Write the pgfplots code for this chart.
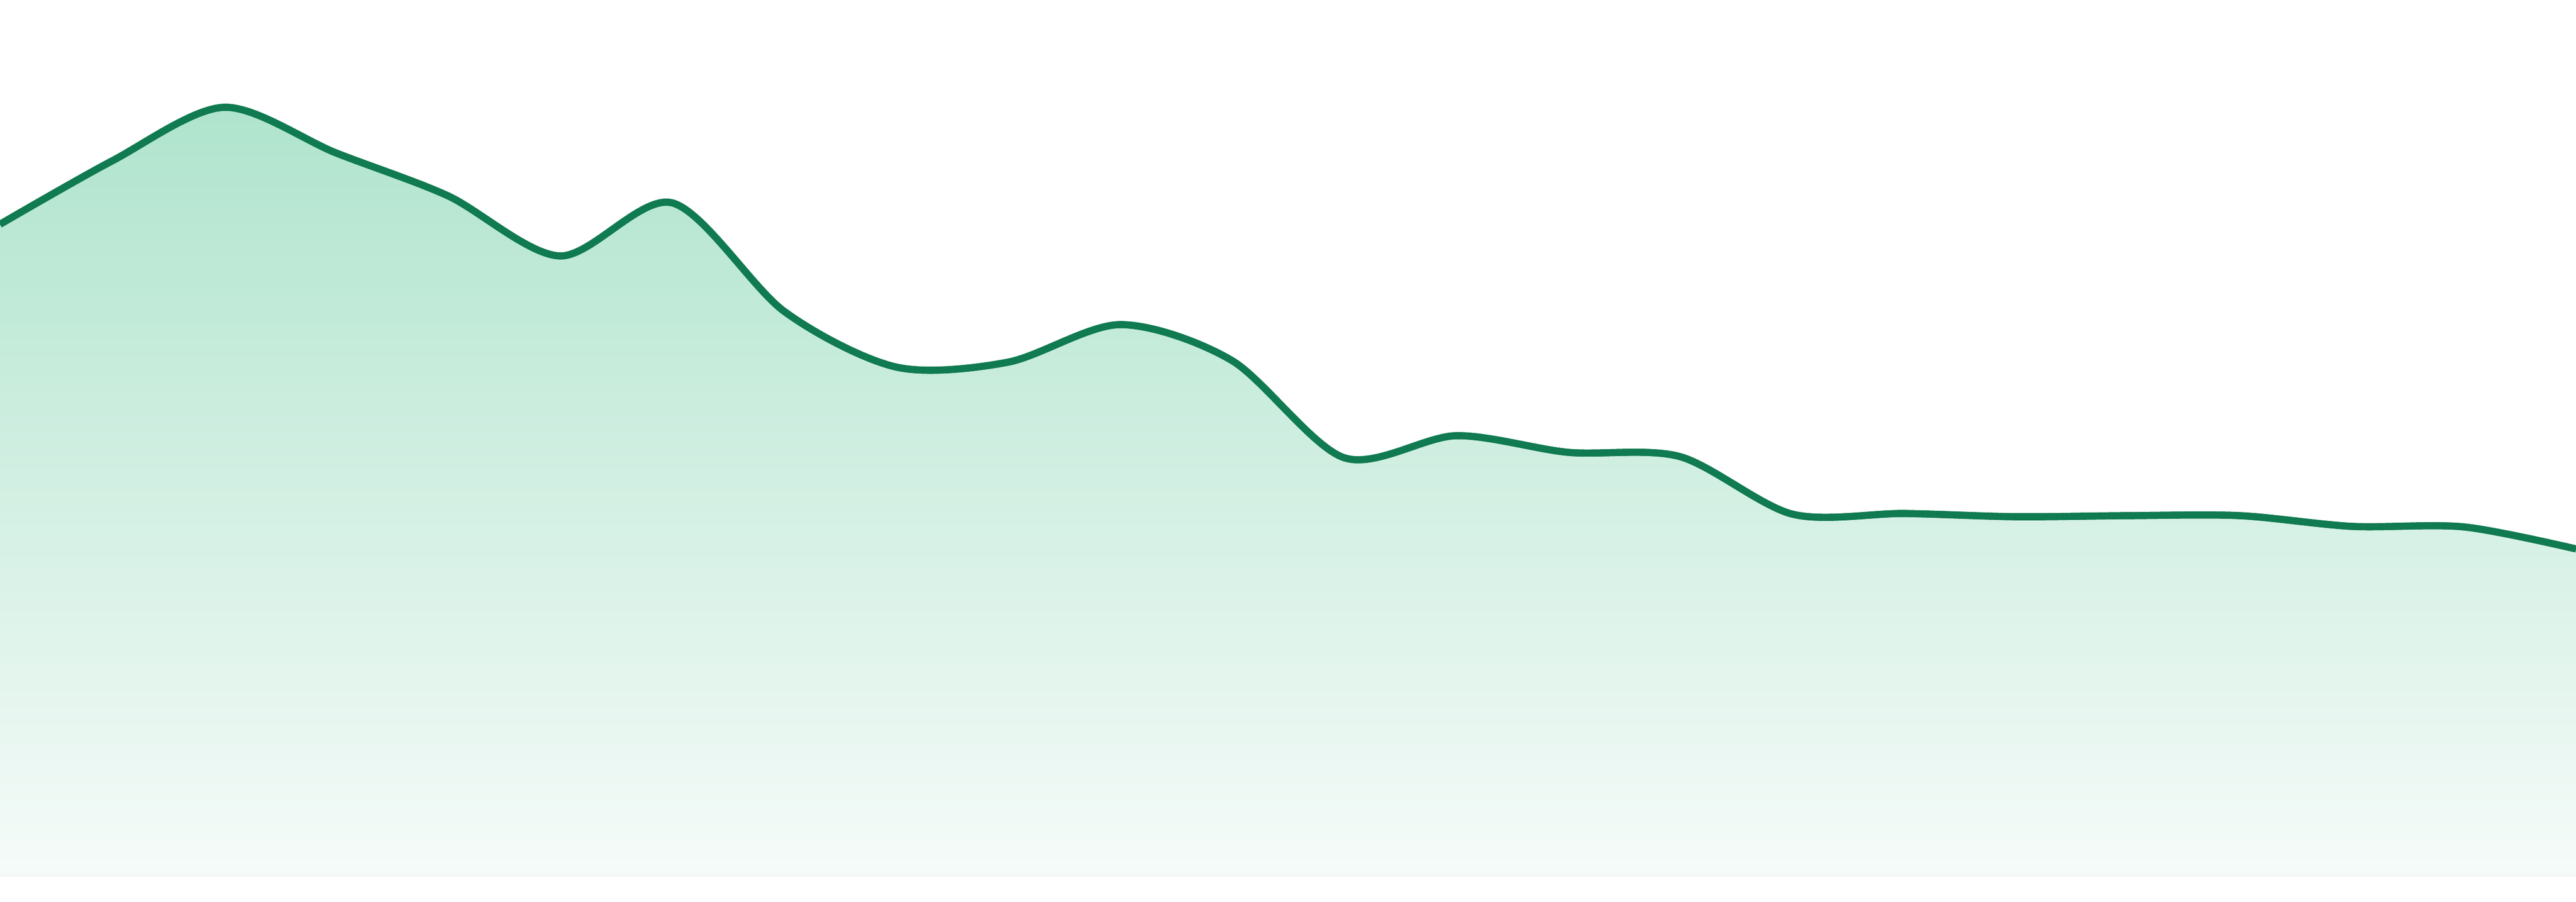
\documentclass[border=0pt]{standalone}
\usepackage{pgfplots}
\pgfplotsset{compat=1.18}
\usepgfplotslibrary{fillbetween}
\definecolor{linegreen}{HTML}{107A51}
\definecolor{filltop}{HTML}{AFE4CD}
\definecolor{fillbot}{HTML}{F6FBF9}
\begin{document}
\begin{tikzpicture}
\begin{axis}[
  scale only axis,
  width=16cm, height=5.6cm,
  xmin=0, xmax=23,
  ymin=-48, ymax=1632,
  hide axis,
  clip=true,
]
% the line itself
\addplot[linegreen, line width=1.25pt, smooth, name path=curve] coordinates {
(0,1214) (1,1332) (2,1432) (3,1347) (4,1267) (5,1155) (6,1254) (7,1052)
(8,948) (9,957) (10,1027) (11,960) (12,779) (13,820) (14,789) (15,781)
(16,674) (17,675) (18,669) (19,671) (20,671) (21,651) (22,650) (23,609)
};
\addplot[draw=none, name path=base] coordinates {(0,0) (23,0)};
% gradient fill under the curve
\addplot[top color=filltop, bottom color=fillbot] fill between[of=curve and base];
% draw the line again so it sits on top of the fill
\addplot[linegreen, line width=1.25pt, smooth] coordinates {
(0,1214) (1,1332) (2,1432) (3,1347) (4,1267) (5,1155) (6,1254) (7,1052)
(8,948) (9,957) (10,1027) (11,960) (12,779) (13,820) (14,789) (15,781)
(16,674) (17,675) (18,669) (19,671) (20,671) (21,651) (22,650) (23,609)
};
\end{axis}
\pgfresetboundingbox
\useasboundingbox (current axis.south west) rectangle (current axis.north east);
\end{tikzpicture}
\end{document}
